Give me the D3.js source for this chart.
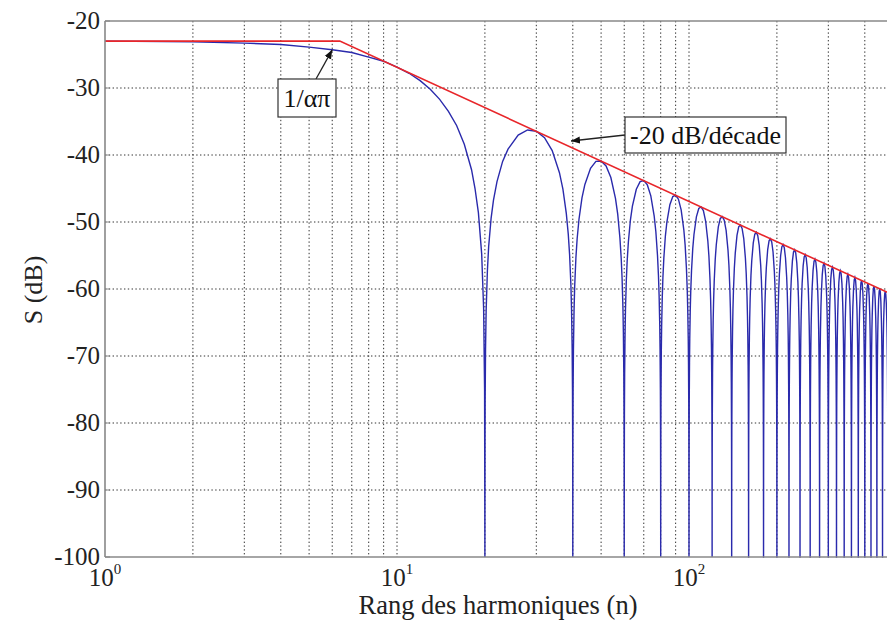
<!DOCTYPE html>
<html>
<head>
<meta charset="utf-8">
<script src="https://cdn.jsdelivr.net/npm/d3@7"></script>
<style>
  body { margin: 0; background: #fff; }
</style>
</head>
<body>
<script>
// main lobe of the spectrum
var mainLobeN  = [1, 2, 3, 4, 5, 6, 7, 8, 9, 10, 11, 12, 13, 14, 15, 16, 17, 18, 18.5, 19, 19.5, 19.8, 19.95, 20];
var mainLobeDb = [-23.0, -23.1, -23.3, -23.5, -23.9, -24.3, -24.7, -25.4, -26.0, -26.9, -27.8, -28.9, -30.2, -31.7, -33.5, -35.6, -38.4, -42.2, -45.0, -48.6, -54.8, -62.9, -75, -100];

// zeros of the spectrum (every 20 harmonics)
var nulls = [20, 40, 60, 80, 100, 120, 140, 160, 180, 200, 220, 240, 260, 280, 300, 320, 340, 360, 380, 400, 420, 440, 460, 480, 500];

// shape of one side lobe: position between two zeros / dB below the asymptote
var lobeT    = [0, 0.001, 0.002, 0.005, 0.01, 0.02, 0.03, 0.05, 0.07, 0.1, 0.15, 0.2, 0.3, 0.4, 0.5, 0.6, 0.7, 0.8, 0.85, 0.9, 0.93, 0.95, 0.97, 0.98, 0.99, 0.995, 0.998, 0.999, 1];
var lobeDrop = [-120, -50, -44, -36.1, -30.1, -24.1, -20.5, -16.1, -13.2, -10.2, -6.8, -4.6, -1.8, -0.4, 0, -0.4, -1.8, -4.6, -6.8, -10.2, -13.2, -16.1, -20.5, -24.1, -30.1, -36.1, -44, -50, -120];

// asymptotes (red)
var asymN  = [1, 6.37, 500];
var asymDb = [-23, -23, -60.9];

var yTicks = [-100, -90, -80, -70, -60, -50, -40, -30, -20];
var xDecades = [1, 10, 100];
var xExp = ["0", "1", "2"];

var W = 887, H = 628;
var mLeft = 105, mTop = 21, mBottom = 557;
var serif = "'Liberation Serif', 'Times New Roman', 'DejaVu Serif', serif";

var svg = d3.select("body").append("svg")
    .attr("width", W).attr("height", H)
    .attr("font-family", serif);

var x = d3.scaleLog().domain([1, 500]).range([mLeft, mLeft + 292 * Math.log10(500)]);
var y = d3.scaleLinear().domain([-100, -20]).range([mBottom, mTop]).clamp(true);

var defs = svg.append("defs");
defs.append("clipPath").attr("id", "plot")
  .append("rect").attr("x", mLeft).attr("y", mTop - 1).attr("width", W - mLeft).attr("height", mBottom - mTop + 2);

// grid
var grid = svg.append("g").attr("stroke", "#333").attr("stroke-width", 1)
    .attr("stroke-dasharray", "1.4,2.4");
grid.selectAll(".gx").data(x.ticks().filter(function(d) { return d > 1; }))
  .enter().append("line")
    .attr("x1", function(d) { return x(d); }).attr("x2", function(d) { return x(d); })
    .attr("y1", mTop).attr("y2", mBottom);
grid.selectAll(".gy").data(yTicks.slice(1, -1))
  .enter().append("line")
    .attr("x1", mLeft).attr("x2", W)
    .attr("y1", function(d) { return y(d); }).attr("y2", function(d) { return y(d); });

// blue spectrum
var pts = mainLobeN.map(function(n, i) { return [n, mainLobeDb[i]]; });
var envelope = d3.scaleLog().domain([asymN[1], asymN[2]]).range([asymDb[1], asymDb[2]]);
for (var k = 0; k < nulls.length - 1; k++) {
    var a = nulls[k], b = nulls[k + 1];
    lobeT.forEach(function(t, i) {
        if (t === 0) return;
        var n = a + t * (b - a);
        pts.push([n, envelope(n) + lobeDrop[i]]);
    });
}
var line = d3.line()
    .x(function(d) { return x(d[0]); })
    .y(function(d) { return y(d[1]); });

var plot = svg.append("g").attr("clip-path", "url(#plot)");
plot.append("path").datum(pts)
    .attr("fill", "none").attr("stroke", "#2a2aac").attr("stroke-width", 1.4)
    .attr("d", line);
plot.append("path").datum(asymN.map(function(n, i) { return [n, asymDb[i]]; }))
    .attr("fill", "none").attr("stroke", "#e8262a").attr("stroke-width", 1.6)
    .attr("d", line);

// frame
var frame = svg.append("g").attr("stroke", "#888").attr("stroke-width", 1.6);
frame.append("line").attr("x1", mLeft).attr("x2", mLeft).attr("y1", mTop).attr("y2", mBottom);
frame.append("line").attr("x1", mLeft).attr("x2", W).attr("y1", mBottom).attr("y2", mBottom);
frame.append("line").attr("x1", mLeft).attr("x2", W).attr("y1", mTop).attr("y2", mTop);

// ticks
svg.append("g").attr("stroke", "#888").selectAll("line").data(yTicks)
  .enter().append("line")
    .attr("x1", mLeft).attr("x2", mLeft + 5)
    .attr("y1", function(d) { return y(d); }).attr("y2", function(d) { return y(d); });

// y labels
svg.append("g").selectAll("text").data(yTicks)
  .enter().append("text")
    .attr("x", mLeft - 5).attr("y", function(d) { return y(d) + 8; })
    .attr("text-anchor", "end").attr("font-size", 25).attr("fill", "#222")
    .text(function(d) { return d; });

// x labels 10^k
var xl = svg.append("g").selectAll("text").data(xDecades)
  .enter().append("text")
    .attr("x", function(d) { return x(d); }).attr("y", 586)
    .attr("text-anchor", "middle").attr("font-size", 25).attr("fill", "#222");
xl.append("tspan").text("10");
xl.append("tspan").attr("font-size", 15).attr("dy", -12).text(function(d, i) { return xExp[i]; });

// axis titles
svg.append("text").attr("x", 498).attr("y", 614).attr("text-anchor", "middle")
    .attr("font-size", 26.5).attr("fill", "#222").text("Rang des harmoniques (n)");
svg.append("text").attr("transform", "translate(42,290) rotate(-90)").attr("text-anchor", "middle")
    .attr("font-size", 26).attr("fill", "#222").text("S (dB)");

// annotations
defs.append("marker").attr("id", "head")
    .attr("viewBox", "0 0 10 10").attr("refX", 10).attr("refY", 5)
    .attr("markerWidth", 9).attr("markerHeight", 9).attr("orient", "auto")
    .attr("markerUnits", "userSpaceOnUse")
  .append("path").attr("d", "M0,1 L10,5 L0,9 Z").attr("fill", "#111");

function note(bx, by, bw, bh, label, fx, fy, tx, ty) {
    svg.append("line").attr("x1", fx).attr("y1", fy).attr("x2", tx).attr("y2", ty)
        .attr("stroke", "#222").attr("stroke-width", 1.3).attr("marker-end", "url(#head)");
    svg.append("rect").attr("x", bx).attr("y", by).attr("width", bw).attr("height", bh)
        .attr("fill", "#fff").attr("stroke", "#333").attr("stroke-width", 1.2);
    svg.append("text").attr("x", bx + bw / 2).attr("y", by + bh / 2 + 9)
        .attr("text-anchor", "middle").attr("font-size", 26).attr("fill", "#111").text(label);
}
note(278, 79, 58, 38, "1/απ", 316, 79, x(6.0), y(-24.3));
note(625, 117, 161, 36, "-20 dB/décade", 625, 135, 571, 141);
</script>
</body>
</html>
